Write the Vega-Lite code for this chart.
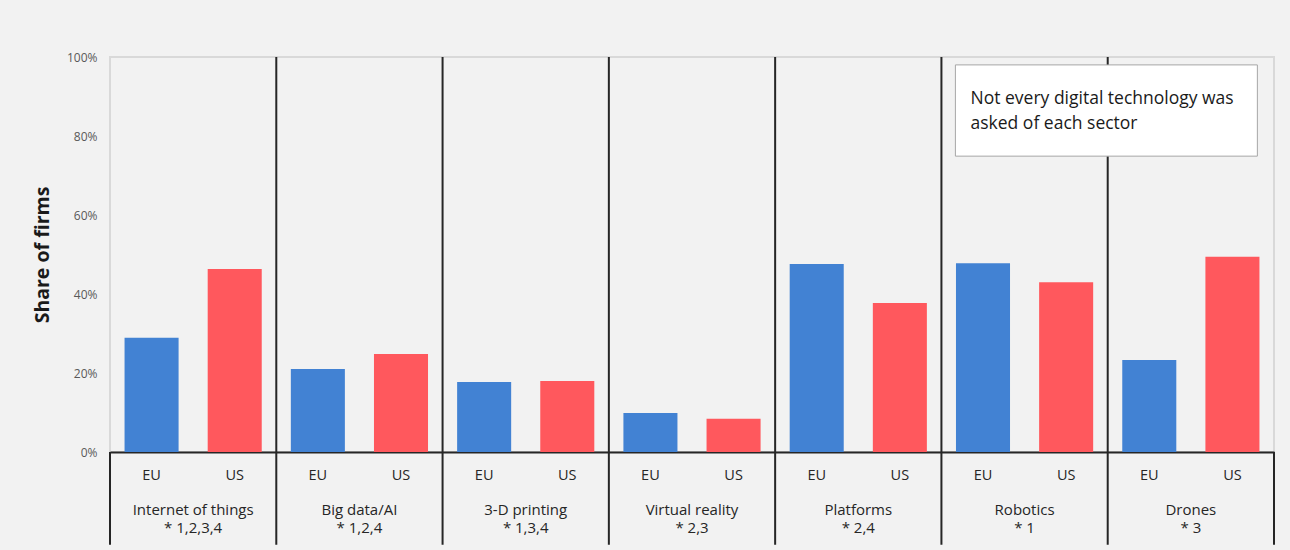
{
  "$schema": "https://vega.github.io/schema/vega-lite/v6.json",
  "width": 1164,
  "height": 395,
  "autosize": {"type": "none"},
  "padding": {"left": 110, "top": 57, "right": 16, "bottom": 98},
  "background": "#f2f2f2",
  "config": {
    "font": "Open Sans",
    "view": {"stroke": "#d9d9d9", "strokeWidth": 2},
    "axis": {"labelFont": "Open Sans", "titleFont": "Open Sans"}
  },
  "datasets": {
    "bars": [
      {"tech": "Internet of things", "region": "EU", "share": 0.289},
      {"tech": "Internet of things", "region": "US", "share": 0.463},
      {"tech": "Big data/AI", "region": "EU", "share": 0.21},
      {"tech": "Big data/AI", "region": "US", "share": 0.248},
      {"tech": "3-D printing", "region": "EU", "share": 0.177},
      {"tech": "3-D printing", "region": "US", "share": 0.18},
      {"tech": "Virtual reality", "region": "EU", "share": 0.099},
      {"tech": "Virtual reality", "region": "US", "share": 0.084},
      {"tech": "Platforms", "region": "EU", "share": 0.476},
      {"tech": "Platforms", "region": "US", "share": 0.377},
      {"tech": "Robotics", "region": "EU", "share": 0.478},
      {"tech": "Robotics", "region": "US", "share": 0.43},
      {"tech": "Drones", "region": "EU", "share": 0.233},
      {"tech": "Drones", "region": "US", "share": 0.494}
    ],
    "techs": [
      {"tech": "Internet of things", "note": "* 1,2,3,4"},
      {"tech": "Big data/AI", "note": "* 1,2,4"},
      {"tech": "3-D printing", "note": "* 1,3,4"},
      {"tech": "Virtual reality", "note": "* 2,3"},
      {"tech": "Platforms", "note": "* 2,4"},
      {"tech": "Robotics", "note": "* 1"},
      {"tech": "Drones", "note": "* 3"}
    ],
    "annotation": [
      {"tech": "Robotics", "text": ["Not every digital technology was", "asked of each sector"]}
    ]
  },
  "layer": [
    {
      "data": {"name": "bars"},
      "mark": {"type": "bar"},
      "encoding": {
        "x": {
          "field": "tech", "type": "nominal",
          "sort": ["Internet of things", "Big data/AI", "3-D printing", "Virtual reality", "Platforms", "Robotics", "Drones"],
          "scale": {"paddingInner": 0, "paddingOuter": 0},
          "axis": {"labels": false, "ticks": false, "title": null, "domainColor": "#262626", "domainWidth": 2}
        },
        "xOffset": {"field": "region", "type": "nominal", "scale": {"paddingInner": 0.35, "paddingOuter": 0.175}},
        "y": {
          "field": "share", "type": "quantitative",
          "scale": {"domain": [0, 1]},
          "axis": {
            "format": ".0%", "values": [0, 0.2, 0.4, 0.6, 0.8, 1],
            "grid": false, "ticks": false, "domain": false,
            "labelFontSize": 12, "labelColor": "#595959", "labelPadding": 13,
            "title": "Share of firms", "titleFontSize": 19.5, "titleFontWeight": "bold",
            "titleColor": "#1a1a1a", "titlePadding": 14
          }
        },
        "color": {
          "field": "region", "type": "nominal",
          "scale": {"domain": ["EU", "US"], "range": ["#4282d3", "#ff585d"]},
          "legend": null
        }
      }
    },
    {
      "data": {"name": "bars"},
      "mark": {"type": "text", "fontSize": 14.5, "color": "#262626", "baseline": "middle"},
      "encoding": {
        "x": {"field": "tech", "type": "nominal", "sort": ["Internet of things", "Big data/AI", "3-D printing", "Virtual reality", "Platforms", "Robotics", "Drones"]},
        "xOffset": {"field": "region", "type": "nominal"},
        "y": {"datum": -0.061, "type": "quantitative"},
        "text": {"field": "region"}
      }
    },
    {
      "data": {"name": "techs"},
      "mark": {"type": "text", "fontSize": 15, "color": "#262626", "baseline": "middle"},
      "encoding": {
        "x": {"field": "tech", "type": "nominal", "sort": ["Internet of things", "Big data/AI", "3-D printing", "Virtual reality", "Platforms", "Robotics", "Drones"]},
        "y": {"datum": -0.147, "type": "quantitative"},
        "text": {"field": "tech"}
      }
    },
    {
      "data": {"name": "techs"},
      "mark": {"type": "text", "fontSize": 15, "color": "#262626", "baseline": "middle"},
      "encoding": {
        "x": {"field": "tech", "type": "nominal", "sort": ["Internet of things", "Big data/AI", "3-D printing", "Virtual reality", "Platforms", "Robotics", "Drones"]},
        "y": {"datum": -0.192, "type": "quantitative"},
        "text": {"field": "note"}
      }
    },
    {
      "data": {"name": "techs"},
      "transform": [{"filter": "datum.tech != 'Internet of things'"}],
      "mark": {"type": "rule", "color": "#262626", "strokeWidth": 2},
      "encoding": {
        "x": {"field": "tech", "type": "nominal", "bandPosition": 0, "sort": ["Internet of things", "Big data/AI", "3-D printing", "Virtual reality", "Platforms", "Robotics", "Drones"]},
        "y": {"datum": 1, "type": "quantitative"},
        "y2": {"datum": -0.235}
      }
    },
    {
      "data": {"name": "techs"},
      "transform": [{"filter": "datum.tech == 'Internet of things'"}],
      "mark": {"type": "rule", "color": "#262626", "strokeWidth": 2},
      "encoding": {
        "x": {"field": "tech", "type": "nominal", "bandPosition": 0, "sort": ["Internet of things", "Big data/AI", "3-D printing", "Virtual reality", "Platforms", "Robotics", "Drones"]},
        "y": {"datum": 0, "type": "quantitative"},
        "y2": {"datum": -0.235}
      }
    },
    {
      "data": {"name": "techs"},
      "transform": [{"filter": "datum.tech == 'Drones'"}],
      "mark": {"type": "rule", "color": "#262626", "strokeWidth": 2},
      "encoding": {
        "x": {"field": "tech", "type": "nominal", "bandPosition": 1, "sort": ["Internet of things", "Big data/AI", "3-D printing", "Virtual reality", "Platforms", "Robotics", "Drones"]},
        "y": {"datum": 0, "type": "quantitative"},
        "y2": {"datum": -0.235}
      }
    },
    {
      "data": {"name": "annotation"},
      "mark": {"type": "rect", "fill": "#ffffff", "stroke": "#a6a6a6", "strokeWidth": 1},
      "encoding": {
        "x": {"datum": "Robotics", "bandPosition": 0.084},
        "x2": {"datum": "Drones", "bandPosition": 0.9},
        "y": {"datum": 0.98, "type": "quantitative"},
        "y2": {"datum": 0.749}
      }
    },
    {
      "data": {"name": "annotation"},
      "mark": {"type": "text", "fontSize": 17.5, "color": "#1a1a1a", "align": "left", "baseline": "middle", "lineHeight": 25},
      "encoding": {
        "x": {"datum": "Robotics", "bandPosition": 0.175},
        "y": {"datum": 0.894, "type": "quantitative"},
        "text": {"field": "text"}
      }
    }
  ]
}
